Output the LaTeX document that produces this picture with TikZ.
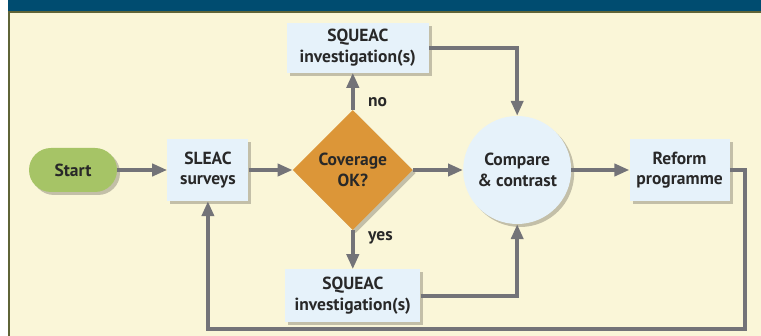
\documentclass[tikz,border=0pt]{standalone}
\usepackage{fontspec}
\setmainfont{PT Sans}
\usetikzlibrary{shapes.geometric,positioning,arrows.meta,shadows,calc}
\definecolor{bandblue}{RGB}{0,76,112}
\definecolor{frameolive}{RGB}{95,100,55}
\definecolor{cream}{RGB}{250,246,216}
\definecolor{boxblue}{RGB}{230,242,250}
\definecolor{startgreen}{RGB}{166,196,102}
\definecolor{okorange}{RGB}{220,150,56}
\definecolor{flowgray}{RGB}{115,115,120}
\definecolor{txtgray}{RGB}{40,40,40}
\tikzset{
  shade/.style={drop shadow={shadow xshift=3pt,shadow yshift=-3pt,opacity=0.22,fill=black}},
  stepbox/.style={rectangle,fill=boxblue,shade,align=center,inner sep=0pt},
  flow/.style={draw=flowgray,line width=4pt,-{Triangle[length=15pt,width=12pt]}},
  back/.style={draw=flowgray,line width=4pt}
}
\begin{document}
\begin{tikzpicture}[x=1pt,y=-1pt,node distance=50pt,
    every node/.style={font=\bfseries\fontsize{17.5}{20.5}\selectfont,text=txtgray}]
    \useasboundingbox (0,0) rectangle (761,336);
    \fill[bandblue] (8,0) rectangle (761,11);
    \fill[cream] (9,12) rectangle (761,336);
    \draw[frameolive,line width=1.5pt] (9,336) -- (9,12) -- (761,12);
    \node[rectangle,rounded corners=22pt,fill=startgreen,shade,minimum width=88pt,minimum height=44pt] (start) at (73,170) {Start};
    \node[stepbox,right=of start,minimum width=81pt,minimum height=62pt] (sleac) {SLEAC\\surveys};
    \node[diamond,aspect=1,fill=okorange,shade,minimum size=120pt,inner sep=0pt,align=center,right=44pt of sleac] (ok) {Coverage\\OK?};
    \node[circle,fill=boxblue,shade,minimum size=108pt,inner sep=0pt,align=center,right=of ok] (cmp) {Compare\\\& contrast};
    \node[stepbox,right=58pt of cmp,minimum width=100pt,minimum height=62pt] (reform) {Reform\\programme};
    \node[stepbox,above=37pt of ok,xshift=5pt,minimum width=142pt,minimum height=50pt] (sqtop) {SQUEAC\\investigation(s)};
    \node[stepbox,below=39pt of ok,minimum width=135pt,minimum height=53pt] (sqbot) {SQUEAC\\investigation(s)};
    \draw[flow] (start) -- (sleac);
    \draw[flow] (sleac) -- (ok);
    \draw[flow] (ok) -- (cmp);
    \draw[flow] (cmp) -- (reform);
    \draw[flow] (ok.north) -- node[right=10pt,pos=0.2] {no} (ok.north |- sqtop.south);
    \draw[flow] (ok.south) -- node[right=10pt,pos=0.2] {yes} (sqbot.north);
    \draw[flow] (sqtop.east) -| (cmp.north);
    \draw[flow] (sqbot.east) -| (cmp.south);
    \draw[back,-{Triangle[length=15pt,width=12pt]}] (reform.east) -| ++(15,159) -| (sleac.south);
  \end{tikzpicture}
\end{document}
